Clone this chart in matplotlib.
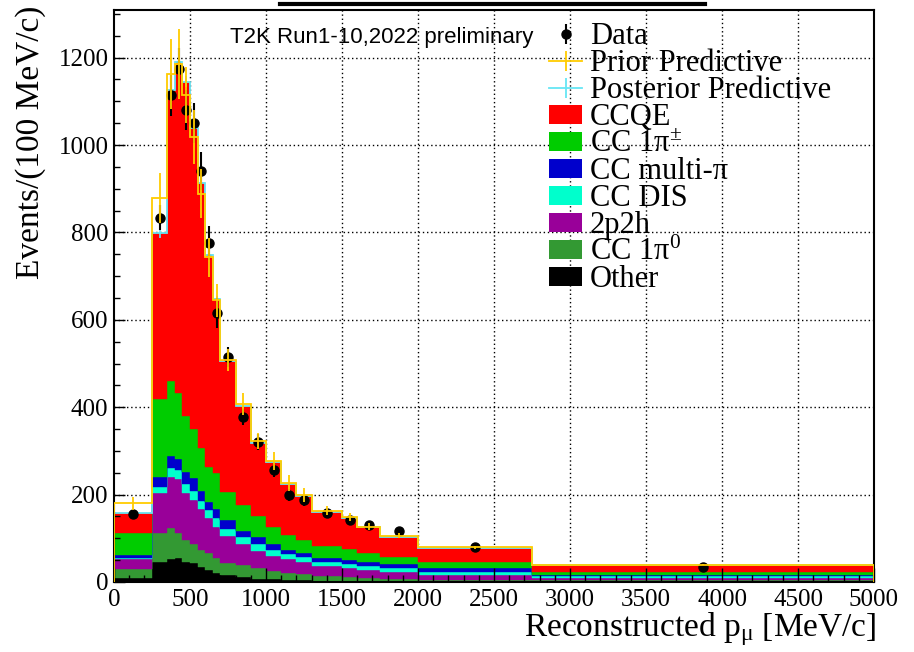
import numpy as np
import matplotlib
matplotlib.use("Agg")
import matplotlib.pyplot as plt
from matplotlib.lines import Line2D
from matplotlib.patches import Patch
from matplotlib.legend_handler import HandlerTuple
from matplotlib.ticker import MultipleLocator

plt.rcParams['font.family'] = ['Liberation Serif', 'DejaVu Serif']
plt.rcParams['mathtext.fontset'] = 'custom'
plt.rcParams['mathtext.rm'] = 'Liberation Serif'
plt.rcParams['mathtext.it'] = 'Liberation Serif:italic'

# bin edges in MeV/c, contents in events / 100 MeV/c
edges = [0, 250, 350, 400, 450, 500, 550, 600, 650, 700, 800, 900, 1000,
         1100, 1200, 1300, 1500, 1600, 1750, 2000, 2750, 5000]

# stacked components, listed bottom -> top
other = [10, 46, 52, 56, 46, 43, 35, 27, 20, 16, 11, 8, 6, 5, 4, 3, 3, 2, 2, 1, 0.5]
cc1pi0 = [19, 65, 71, 55, 49, 44, 38, 39, 34, 28, 28, 23, 19, 16, 14, 11, 8, 7, 5, 4, 3.5]
twop2h = [23, 93, 118, 124, 109, 101, 93, 80, 73, 61, 48, 41, 34, 31, 28, 23, 20, 18, 17, 12, 5]
ccdis = [4, 14, 21, 21, 20, 20, 20, 19, 19, 17, 17, 15, 14, 12, 12, 9, 10, 10, 9, 7, 4]
ccmultipi = [6, 22, 27, 25, 28, 29, 23, 19, 20, 19, 13, 17, 14, 9, 9, 10, 9, 9, 8, 7, 4]
cc1pipm = [49, 179, 170, 152, 129, 113, 98, 80, 84, 64, 59, 47, 40, 35, 30, 26, 26, 20, 16, 14, 7]
ccqe = [46, 379, 666, 758, 764, 688, 605, 484, 397, 301, 227, 168, 147, 116, 100, 79, 70, 59, 47, 32, 15]

post_err = [3, 10, 14, 14, 13, 12, 11, 9, 8, 6, 5, 4, 4, 3, 3, 2, 2, 2, 2, 1, 1]

prior = [180, 878, 1162, 1185, 1114, 1019, 889, 743, 645, 508, 407, 322, 277, 226,
         199, 163, 148, 127, 106, 79, 40]
prior_err = [15, 57, 80, 80, 64, 62, 55, 45, 38, 25, 25, 18, 20, 18, 15, 10, 9, 8, 6, 4, 2]

data = [155, 834, 1114, 1173, 1080, 1050, 940, 776, 616, 514, 378, 321, 256, 199,
        188, 159, 142, 130, 117, 79, 35]
data_err = [8, 29, 47, 48, 46, 46, 43, 39, 35, 23, 19, 18, 16, 14, 14, 9, 12, 9, 7, 3, 1]

stack = [other, cc1pi0, twop2h, ccdis, ccmultipi, cc1pipm, ccqe]
stack_colors = ['#000000', '#339933', '#990099', '#00FFCC', '#0000CC', '#00CC00', '#FF0000']
stack_labels = ['Other', r'CC 1π$^{0}$', '2p2h', 'CC DIS', 'CC multi-π', r'CC 1π$^{\pm}$', 'CCQE']

YELLOW = '#FFCC00'
CYAN = '#66E6F5'

edges = np.array(edges, dtype=float)
centers = 0.5 * (edges[1:] + edges[:-1])

fig = plt.figure(figsize=(9.14, 6.52), dpi=100)
ax = fig.add_axes([114 / 914, 1 - 582 / 652, 760 / 914, 572 / 652])

bottom = np.zeros(len(data))
for vals, col in zip(stack, stack_colors):
    vals = np.array(vals, dtype=float)
    ax.stairs(bottom + vals, edges, baseline=bottom.copy(), fill=True,
              facecolor=col, edgecolor=col, lw=0.3)
    bottom += vals
total = bottom

ax.stairs(total, edges, color=CYAN, lw=1.3, zorder=2.2)
ax.errorbar(centers, total, yerr=post_err, fmt='none', ecolor=CYAN, elinewidth=1.2, zorder=2.3)

ax.errorbar(centers, data, yerr=data_err, fmt='o', color='k', ms=6.5,
            elinewidth=1.5, capsize=0, zorder=3)

ax.stairs(prior, edges, color=YELLOW, lw=1.3, zorder=3.5)
ax.errorbar(centers, prior, yerr=prior_err, fmt='none', ecolor=YELLOW, elinewidth=1.3, zorder=3.6)

# dotted grid under the histograms
for x in range(500, 5000, 500):
    ax.axvline(x, color='k', ls=(0, (1, 2)), lw=1, zorder=0.5)
for y in range(200, 1400, 200):
    ax.axhline(y, color='k', ls=(0, (1, 2)), lw=1, zorder=0.5)

ax.set_xlim(0, 5000)
ax.set_ylim(0, 1309)
ax.xaxis.set_major_locator(MultipleLocator(500))
ax.xaxis.set_minor_locator(MultipleLocator(100))
ax.yaxis.set_major_locator(MultipleLocator(200))
ax.yaxis.set_minor_locator(MultipleLocator(50))
ax.tick_params(which='both', direction='in', top=False, right=False, width=1, labelsize=18)
ax.tick_params(axis='x', which='major', length=10, pad=5)
ax.tick_params(axis='x', which='minor', length=5)
ax.tick_params(axis='y', which='major', length=8, pad=4)
ax.tick_params(axis='y', which='minor', length=4)
for s in ax.spines.values():
    s.set_linewidth(1.5)

ax.set_xlabel(r'Reconstructed p$_{\mathrm{\mu}}$ [MeV/c]', fontsize=24, loc='right')
ax.xaxis.set_label_coords(1.003, -0.05)
ax.set_ylabel('Events/(100 MeV/c)', fontsize=24, loc='top')
ax.yaxis.set_label_coords(-0.09, 1.008)

handles = [
    (Line2D([], [], color='k', marker='|', ms=14, mew=1.5, ls='none'),
     Line2D([], [], color='k', marker='o', ms=6.5, ls='none')),
    Line2D([], [], color=YELLOW, marker='|', ms=14, mew=1.3, lw=1.3),
    Line2D([], [], color=CYAN, marker='|', ms=14, mew=1.3, lw=1.3),
]
labels = ['Data', 'Prior Predictive', 'Posterior Predictive']
for col, lab in list(zip(stack_colors, stack_labels))[::-1]:
    handles.append(Patch(facecolor=col, edgecolor='none'))
    labels.append(lab)

ax.legend(handles, labels, handler_map={tuple: HandlerTuple(ndivide=1)},
          loc='upper left', bbox_to_anchor=(549 / 914, 1 - 22 / 652),
          bbox_transform=fig.transFigure, frameon=False, fontsize=22,
          handlelength=1.08, handleheight=0.6, handletextpad=0.26,
          labelspacing=-0.065, borderaxespad=0, borderpad=0)

fig.text(230 / 914, 1 - 38 / 652, 'T2K Run1-10,2022 preliminary',
         family='Liberation Sans', fontsize=16, va='center')

# leftover title bar at the top edge
fig.add_artist(Line2D([280 / 914, 705 / 914], [1 - 4 / 652] * 2, color='k', lw=3,
                      transform=fig.transFigure))

fig.savefig('out.png', dpi=100)
